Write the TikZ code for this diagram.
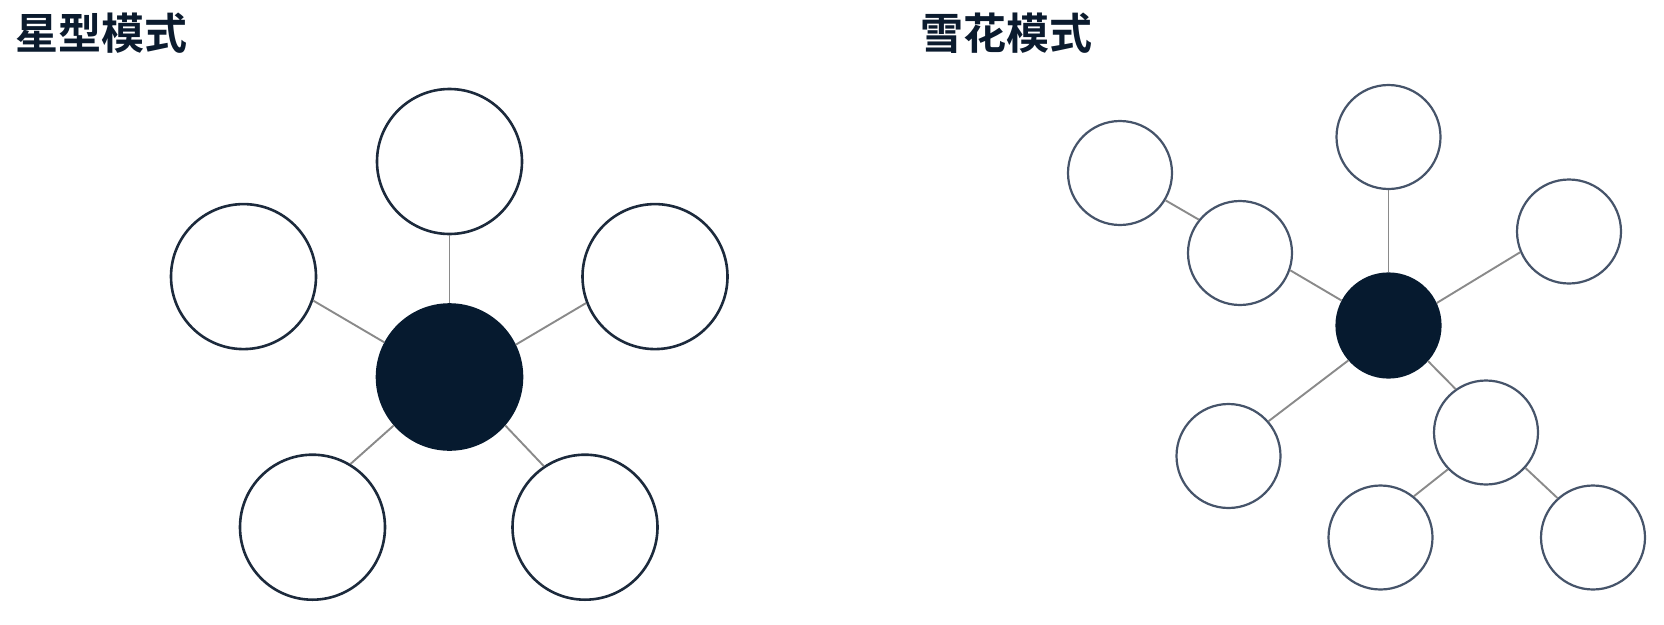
\documentclass[tikz,border=0pt]{standalone}
\usepackage{fontspec}
\newfontfamily\cjk{Noto Sans CJK SC}[BoldFont={Noto Sans CJK SC Bold}]
\definecolor{navy}{HTML}{0B1B2E}
\definecolor{hubfill}{HTML}{061A2F}
\definecolor{starline}{HTML}{1C2A3C}
\definecolor{snowline}{HTML}{46546A}
\definecolor{linkgray}{HTML}{8A8A8A}
\tikzset{
  title/.style={anchor=base west, inner sep=0pt, text=navy, font=\cjk\bfseries\fontsize{43}{48}\selectfont},
  starnode/.style={circle, draw=starline, line width=2.6pt, fill=white, minimum size=145pt, inner sep=0pt},
  starhub/.style={starnode, fill=hubfill, draw=hubfill},
  snownode/.style={circle, draw=snowline, line width=2.2pt, fill=white, minimum size=104pt, inner sep=0pt},
  snowhub/.style={snownode, fill=hubfill, draw=hubfill},
  link/.style={draw=linkgray, line width=1.9pt}
}
\begin{document}
\begin{tikzpicture}[x=1pt,y=-1pt]
\useasboundingbox (0,0) rectangle (1664,624);
\node[title] (t1) at (15,49.5) {星型模式};
\node[title] (t2) at (920,49.5) {雪花模式};
% star
\node[starhub] (sc) at (449.5,377) {};
\node[starnode] (s1) at (449.5,161.5) {};
\node[starnode] (s2) at (243.5,276.6) {};
\node[starnode] (s3) at (655,276.6) {};
\node[starnode] (s4) at (312.5,527.2) {};
\node[starnode] (s5) at (585,527.2) {};
\draw[link] (sc.90) -- (s1.270);
\draw[link] (sc.152) -- (s2.-19.4);
\draw[link] (sc.26) -- (s3.201.4);
\draw[link] (sc.221) -- (s4.59.2);
\draw[link] (sc.-41) -- (s5.124.8);
% snowflake
\node[snowhub] (fc) at (1388.5,325.5) {};
\node[snownode] (f1) at (1388.5,137) {};
\node[snownode] (f2) at (1569,231.5) {};
\node[snownode] (f3) at (1240,253) {};
\node[snownode] (f4) at (1120,173) {};
\node[snownode] (f5) at (1228.5,456) {};
\node[snownode] (f6) at (1486,432.5) {};
\node[snownode] (f7) at (1380.5,537.5) {};
\node[snownode] (f8) at (1593,537.5) {};
\draw[link] (fc.90) -- (f1.270);
\draw[link] (fc.25.6) -- (f2.203);
\draw[link] (fc.152) -- (f3.-19);
\draw[link] (fc.221) -- (f5.41);
\draw[link] (fc.-42.4) -- (f6.125);
\draw[link] (f3.141) -- (f4.-31);
\draw[link] (f6.224) -- (f7.51);
\draw[link] (f6.-42) -- (f8.132);
\end{tikzpicture}
\end{document}
